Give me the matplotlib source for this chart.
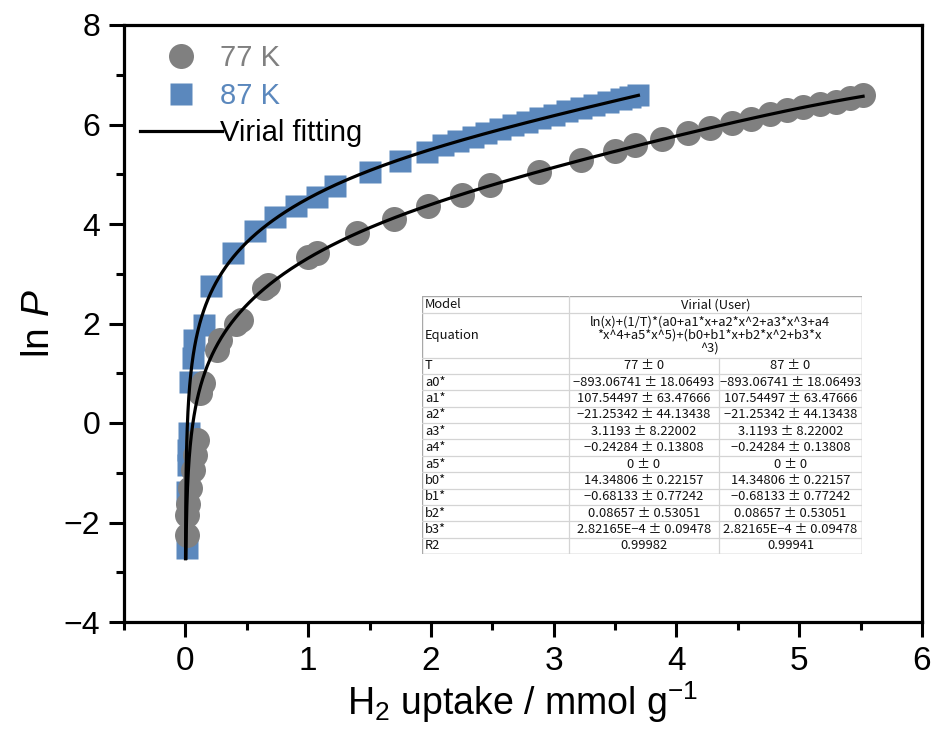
import numpy as np
import matplotlib
matplotlib.use("Agg")
import matplotlib.pyplot as plt
from matplotlib import font_manager
from matplotlib.lines import Line2D

# H2 isotherm points (uptake in mmol/g, ln P)
x77 = [0.012, 0.016, 0.025, 0.04, 0.06, 0.08, 0.095, 0.12, 0.14, 0.26, 0.28,
       0.41, 0.45, 0.64, 0.67, 1.00, 1.07, 1.40, 1.70, 1.98, 2.25, 2.48, 2.88,
       3.22, 3.50, 3.66, 3.88, 4.09, 4.27, 4.45, 4.61, 4.76, 4.90, 5.03, 5.17,
       5.30, 5.41, 5.52]
y77 = [-2.25, -1.85, -1.62, -1.30, -0.95, -0.64, -0.34, 0.60, 0.80, 1.47, 1.67,
       2.00, 2.07, 2.71, 2.77, 3.34, 3.41, 3.81, 4.11, 4.36, 4.58, 4.78, 5.05,
       5.29, 5.47, 5.58, 5.71, 5.83, 5.93, 6.04, 6.12, 6.21, 6.29, 6.35, 6.41,
       6.46, 6.53, 6.59]

x87 = [0.010, 0.015, 0.020, 0.025, 0.030, 0.040, 0.065, 0.07, 0.15, 0.21,
       0.39, 0.57, 0.73, 0.90, 1.07, 1.22, 1.50, 1.75, 1.97, 2.10, 2.22, 2.34,
       2.45, 2.56, 2.67, 2.78, 2.89, 3.00, 3.11, 3.22, 3.33, 3.44, 3.55, 3.62,
       3.69]
y87 = [-2.52, -1.38, -0.84, -0.54, -0.20, 0.83, 1.31, 1.67, 1.97, 2.75,
       3.42, 3.85, 4.15, 4.37, 4.55, 4.77, 5.05, 5.27, 5.45, 5.58, 5.66, 5.75,
       5.83, 5.91, 5.98, 6.06, 6.13, 6.20, 6.27, 6.33, 6.39, 6.45, 6.51, 6.55,
       6.59]

# Virial fit results
temps = [77, 87]
param_names = ["a0*", "a1*", "a2*", "a3*", "a4*", "a5*",
               "b0*", "b1*", "b2*", "b3*"]
param_values = ["-893.06741", "107.54497", "-21.25342", "3.1193", "-0.24284",
                "0", "14.34806", "-0.68133", "0.08657", "2.82165E-4"]
param_errors = ["18.06493", "63.47666", "44.13438", "8.22002", "0.13808",
                "0", "0.22157", "0.77242", "0.53051", "0.09478"]
r2_values = ["0.99982", "0.99941"]
fit_start = [0.0042, 0.0011]
fit_end = [5.52, 3.69]

xticks = [0, 1, 2, 3, 4, 5, 6]
yticks = [-4, -2, 0, 2, 4, 6, 8]

gray = "#808080"
blue = "#5b88bd"


def has_font(name):
    return any(f.name == name for f in font_manager.fontManager.ttflist)


narrow = "Liberation Sans Narrow" if has_font("Liberation Sans Narrow") else "Liberation Sans"
table_font = ["Noto Sans CJK JP", "DejaVu Sans"]

plt.rcParams["font.family"] = ["Liberation Sans", "DejaVu Sans"]
plt.rcParams["mathtext.fontset"] = "custom"
plt.rcParams["mathtext.rm"] = narrow
plt.rcParams["mathtext.it"] = narrow + ":italic"

coef = np.array([float(v) for v in param_values])
a_coef, b_coef = coef[:6], coef[6:]


def virial(n, T):
    return (np.log(n) + np.polyval(a_coef[::-1], n) / T
            + np.polyval(b_coef[::-1], n))


fig = plt.figure(figsize=(9.31, 7.31), dpi=100)
ax = fig.add_axes([124 / 931, 1 - 622 / 731, (922 - 124) / 931, (622 - 25) / 731])

ax.plot(x87, y87, ls="none", marker="s", ms=16.5, mfc=blue, mec="none", zorder=2)
ax.plot(x77, y77, ls="none", marker="o", ms=18, mfc=gray, mec="none", zorder=3)
for T, n0, n1 in zip(temps, fit_start, fit_end):
    n = np.geomspace(n0, n1, 600)
    ax.plot(n, virial(n, T), color="black", lw=2.3, zorder=4)

ax.set_xlim(-0.5, 6)
ax.set_ylim(-4, 8)
ax.set_xticks(xticks)
ax.set_yticks(yticks)
ax.set_xticks(np.arange(-0.5, 6.01, 1.0), minor=True)
ax.set_yticks(np.arange(-3, 8, 2), minor=True)
ax.set_xticklabels([str(v) for v in xticks], fontfamily=narrow, fontsize=24)
ax.set_yticklabels([str(v).replace("-", "\u2212") for v in yticks], fontsize=23)
ax.tick_params(which="major", direction="out", length=11, width=2.2, pad=6)
ax.tick_params(which="minor", direction="out", length=6, width=2.2)
for sp in ax.spines.values():
    sp.set_linewidth(2.3)

ax.set_xlabel(r"H$_2$ uptake / mmol g$^{-1}$", fontfamily=narrow, fontsize=27, labelpad=2)
ax.set_ylabel(r"ln $P$", fontsize=28, labelpad=5)

handles = [Line2D([], [], ls="none", marker="o", ms=18, mfc=gray, mec="none"),
           Line2D([], [], ls="none", marker="s", ms=16.5, mfc=blue, mec="none"),
           Line2D([], [], color="black", lw=2.3)]
labels = ["77 K", "87 K", "Virial fitting"]
leg = ax.legend(handles, labels, loc="upper left", bbox_to_anchor=(0.02, 0.968),
                frameon=False, fontsize=21, handlelength=2.8, handletextpad=-0.05,
                labelspacing=0.33, borderpad=0, borderaxespad=0)
for txt, c in zip(leg.get_texts(), [gray, blue, "black"]):
    txt.set_color(c)

# parameter table
L, R, T0, B = 422, 862, 296, 554
tab = fig.add_axes([L / 931, 1 - B / 731, (R - L) / 931, (B - T0) / 731])
tab.set_xlim(0, R - L)
tab.set_ylim(B - T0, 0)
tab.axis("off")
tab.add_patch(plt.Rectangle((0, 0), R - L, B - T0, facecolor="white",
                            edgecolor="#a8a8a8", lw=1.0, zorder=1))
cols = [0, 147, 297, R - L]
row_h = 16.36
rows = [0, 17.3, 61.7] + [61.7 + row_h * k for k in range(1, 13)]
line_c = "#d4d4d4"
for yv in rows[1:-1]:
    tab.plot([0, R - L], [yv, yv], color=line_c, lw=0.9, zorder=2)
tab.plot([cols[1], cols[1]], [0, rows[-1]], color=line_c, lw=0.9, zorder=2)
tab.plot([cols[2], cols[2]], [rows[2], rows[-1]], color=line_c, lw=0.9, zorder=2)

fs = 9.3
mid12 = (cols[1] + cols[3]) / 2
c2 = (cols[1] + cols[2]) / 2
c3 = (cols[2] + cols[3]) / 2


def cell(x, y, s, ha="center"):
    tab.text(x, y, s, ha=ha, va="center", fontsize=fs, family=table_font,
             color="#111111", zorder=3)


cell(3, (rows[0] + rows[1]) / 2, "Model", "left")
cell(mid12, (rows[0] + rows[1]) / 2, "Virial (User)")
cell(3, (rows[1] + rows[2]) / 2, "Equation", "left")
tab.text(mid12 - 6, (rows[1] + rows[2]) / 2,
         "ln(x)+(1/T)*(a0+a1*x+a2*x^2+a3*x^3+a4\n*x^4+a5*x^5)+(b0+b1*x+b2*x^2+b3*x\n^3)",
         ha="center", va="center", fontsize=fs, family=table_font,
         color="#111111", linespacing=1.0, zorder=3)

body = [["T", f"{temps[0]} \u00b1 0", f"{temps[1]} \u00b1 0"]]
for nm, v, e in zip(param_names, param_values, param_errors):
    s = f"{v} \u00b1 {e}".replace("-", "\u2212")
    body.append([nm, s, s])
body.append(["R2", r2_values[0], r2_values[1]])
for i, (c1, s2, s3) in enumerate(body):
    yc = (rows[2 + i] + rows[3 + i]) / 2
    cell(3, yc, c1, "left")
    cell(c2, yc, s2)
    cell(c3, yc, s3)

fig.savefig("out.png", dpi=100, facecolor="white")
